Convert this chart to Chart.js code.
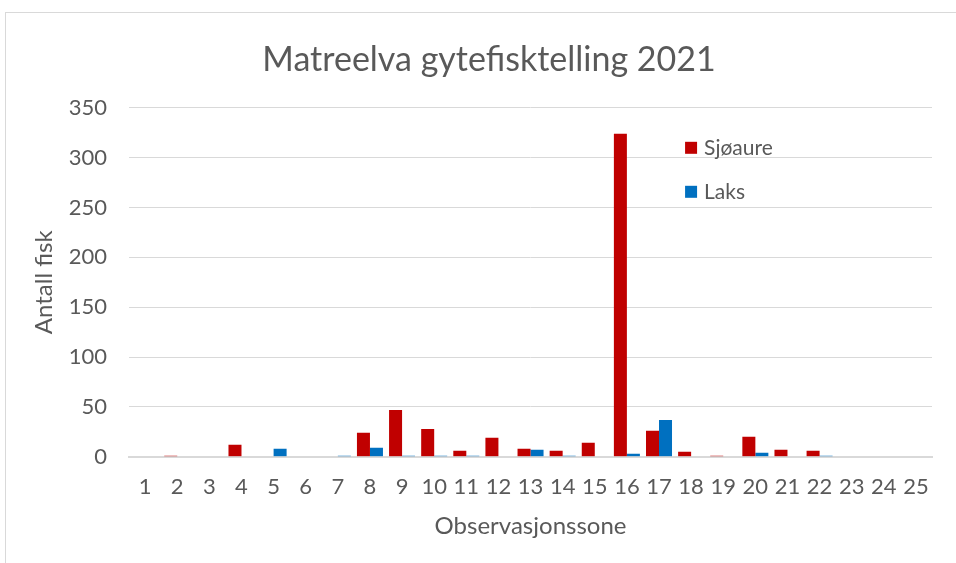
<!DOCTYPE html>
<html>
<head>
<meta charset="utf-8">
<script src="https://cdn.jsdelivr.net/npm/chart.js@4.4.1/dist/chart.umd.min.js"></script>
<style>
  html, body { margin: 0; padding: 0; background: #fff; }
  #wrap { position: relative; width: 956px; height: 563px; }
  #frame { position: absolute; left: 5px; top: 12px; width: 960px; height: 560px;
           border-left: 1px solid #d9d9d9; border-top: 1px solid #d9d9d9; pointer-events: none; }
</style>
</head>
<body>
<div id="wrap">
  <canvas id="myChart" width="956" height="563"></canvas>
  <div id="frame"></div>
</div>
<script>
// observasjonssoner 1..25
var soner = ["1","2","3","4","5","6","7","8","9","10","11","12","13","14","15","16","17","18","19","20","21","22","23","24","25"];
var sjoaure = [0, 1, 0, 12, 0, 0, 0, 24, 47, 28, 6, 19, 8, 6, 14, 324, 26, 5, 1, 20, 7, 6, 0, 0, 0];
var laks    = [0, 0, 0, 0, 8, 0, 1, 9, 1, 1, 1, 0, 7, 1, 0, 3, 37, 0, 0, 4, 0, 1, 0, 0, 0];
var yTicks = { min: 0, max: 350, step: 50 };

var fontName = "Lato";
var textColor = "#595959";

// legend drawn inside plot area (like the excel chart)
var legendInside = {
    id: "legendInside",
    afterDraw: function (chart) {
        var ctx = chart.ctx;
        var area = chart.chartArea;
        var x = area.left + 556;
        var y = area.top + 40;
        ctx.save();
        ctx.font = "21px " + fontName;
        ctx.textBaseline = "middle";
        chart.data.datasets.forEach(function (ds, i) {
            ctx.fillStyle = ds.backgroundColor;
            ctx.fillRect(x, y + i * 44 - 6, 12, 12);
            ctx.fillStyle = textColor;
            ctx.fillText(ds.label, x + 19, y + i * 44);
        });
        ctx.restore();
    }
};

var ctx = document.getElementById("myChart");
var chart = new Chart(ctx, {
    type: "bar",
    data: {
        labels: soner,
        datasets: [{
            label: "Sjøaure",
            data: sjoaure,
            backgroundColor: "#C00000"
        }, {
            label: "Laks",
            data: laks,
            backgroundColor: "#0070C0"
        }]
    },
    options: {
        responsive: false,
        animation: false,
        events: [],
        datasets: {
            bar: { categoryPercentage: 0.81, barPercentage: 1.0 }
        },
        layout: { padding: { left: 46, right: 24, top: 40, bottom: 22 } },
        plugins: {
            legend: { display: false },
            tooltip: { enabled: false },
            title: {
                display: true,
                text: "Matreelva gytefisktelling 2021",
                color: textColor,
                font: { family: fontName, size: 34, weight: "normal" },
                padding: { top: 0, bottom: 27 }
            }
        },
        scales: {
            x: {
                grid: { display: false, drawTicks: false },
                border: { color: "#d9d9d9", width: 2 },
                ticks: { color: textColor, font: { family: fontName, size: 22 }, padding: 17, maxRotation: 0, autoSkip: false },
                title: {
                    display: true,
                    text: "Observasjonssone",
                    color: textColor,
                    font: { family: fontName, size: 24 },
                    padding: { top: -5, bottom: 0 }
                }
            },
            y: {
                min: yTicks.min,
                max: yTicks.max,
                grid: { color: "#d9d9d9", lineWidth: 1, drawTicks: false },
                border: { display: false },
                ticks: { stepSize: yTicks.step, color: textColor, font: { family: fontName, size: 22 }, padding: 22 },
                title: {
                    display: true,
                    text: "Antall fisk",
                    color: textColor,
                    font: { family: fontName, size: 24 },
                    padding: { top: -16, bottom: -12 }
                }
            }
        }
    },
    plugins: [legendInside]
});
</script>
</body>
</html>
